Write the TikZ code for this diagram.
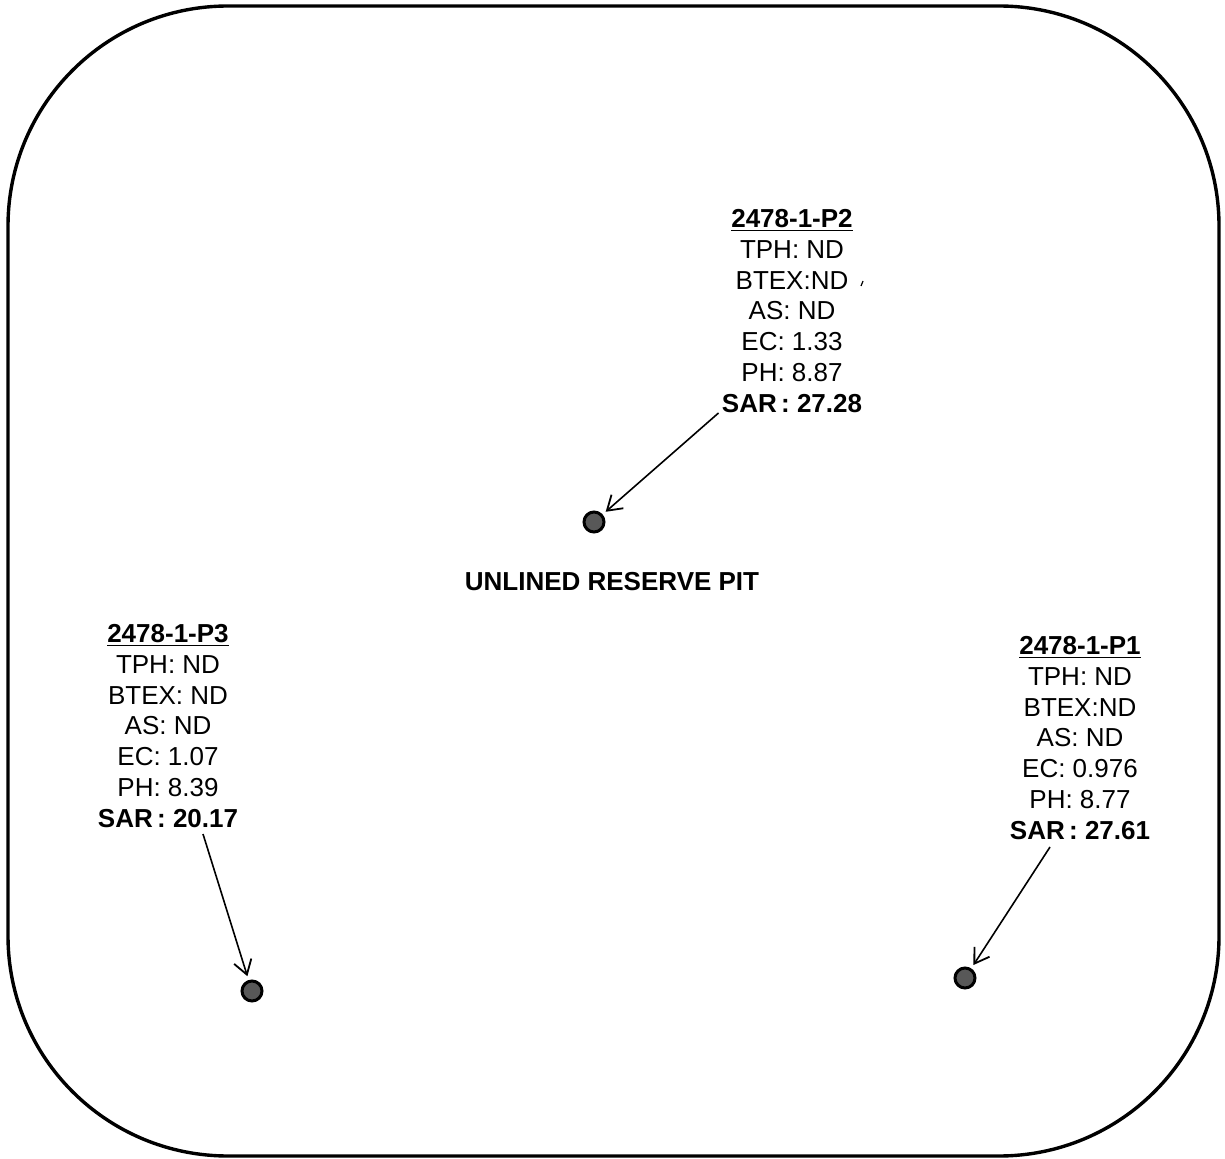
\documentclass[tikz,border=0pt]{standalone}
\usepackage{fontspec}
\setmainfont{Liberation Sans}
\usetikzlibrary{calc,arrows.meta}
\definecolor{wellgray}{HTML}{585858}

\begin{document}
\begin{tikzpicture}[x=0.5pt,y=-0.5pt,
  lbl/.style={align=center,inner sep=0pt,font=\fontsize{13}{15.4}\selectfont},
  well/.style={circle,draw,line width=1.5pt,fill=wellgray,minimum size=10pt,inner sep=0pt},
  ptr/.style={-{Straight Barb[length=7pt,width=9pt,line width=0.9pt]},line width=0.8pt,shorten >=2pt}]
  \useasboundingbox (0,0) rectangle (1225,1159);
  % pit outline
  \draw[line width=1.7pt,rounded corners=110pt] (8,6) rectangle (1219,1156);
  \node[font=\fontsize{13}{15.4}\selectfont\bfseries] (pit) at (612,582) {UNLINED RESERVE PIT};
  % sample points
  \node[well] (w2) at (594,522) {};
  \node[well] (w3) at (252,991) {};
  \node[well] (w1) at (965,978) {};
  % results
  \node[lbl] (p2) at (792,311) {\underline{\textbf{2478-1-P2}}\\TPH: ND\\BTEX:ND\\AS: ND\\EC: 1.33\\PH: 8.87\\\textbf{SAR\,: 27.28}};
  \node[lbl] (p3) at (168,726) {\underline{\textbf{2478-1-P3}}\\TPH: ND\\BTEX: ND\\AS: ND\\EC: 1.07\\PH: 8.39\\\textbf{SAR\,: 20.17}};
  \node[lbl] (p1) at (1080,738) {\underline{\textbf{2478-1-P1}}\\TPH: ND\\BTEX:ND\\AS: ND\\EC: 0.976\\PH: 8.77\\\textbf{SAR\,: 27.61}};
  \draw[line width=0.6pt] (861,286) -- (863,281);
  % leaders
  \draw[ptr] ($(p2.south west)+(-3,0)$) -- (w2);
  \draw[ptr] ($(p3.south)+(35,6)$) -- (w3);
  \draw[ptr] ($(p1.south)+(-30,7)$) -- (w1);
\end{tikzpicture}
\end{document}
